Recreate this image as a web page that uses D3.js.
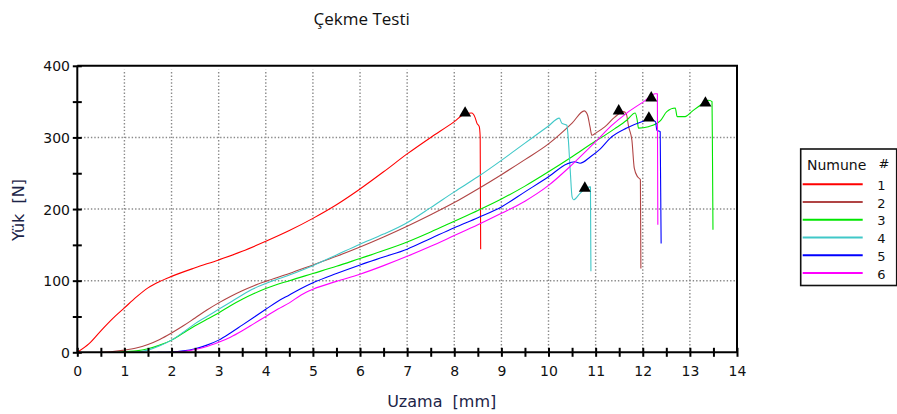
<!DOCTYPE html>
<html>
<head>
<meta charset="utf-8">
<script src="https://cdn.jsdelivr.net/npm/d3@7"></script>
<style>
  body { margin: 0; background: #fff; }
  svg { display: block; }
</style>
</head>
<body>
<div id="chart"></div>
<script>
// values: [Uzama mm, Yük N]
var numune1 = [[0,0],[0.25,12],[0.5,30],[0.75,47],[1,62],[1.25,77],[1.5,90],[1.75,99],[2,106],[2.5,118],[3,129],[3.5,141],[4,155],[4.5,170],[5,187],[5.5,206],[6,228],[6.5,252],[7,277],[7.5,300],[8,322],[8.2,332],[8.37,334],[8.44,328],[8.48,320],[8.53,315],[8.55,301],[8.56,144]];
var numune2 = [[0.5,0],[0.75,1],[1,3],[1.25,6],[1.5,11],[1.75,18],[2,27],[2.25,37],[2.5,48],[2.75,59],[3,69],[3.25,78],[3.5,86],[3.75,93],[4,99],[4.5,110],[5,122],[5.5,134],[6,147],[6.5,161],[7,176],[7.5,192],[8,209],[8.5,228],[9,248],[9.5,269],[10,291],[10.5,320],[10.76,337],[10.8,335],[10.83,331],[10.88,315],[10.92,303],[11,306],[11.2,315],[11.4,328],[11.59,336],[11.65,333],[11.7,315],[11.77,296],[11.82,257],[11.89,245],[11.95,241],[11.96,117]];
var numune3 = [[0.85,0],[1,1],[1.25,2],[1.5,5],[1.75,10],[2,17],[2.25,27],[2.5,37],[2.75,46],[3,55],[3.25,65],[3.5,74],[3.75,82],[4,89],[4.5,100],[5,110],[5.5,120],[6,131],[6.5,142],[7,154],[7.5,168],[8,183],[8.5,198],[9,214],[9.5,232],[10,252],[10.5,273],[11,295],[11.1,299],[11.4,312],[11.66,324],[11.84,334],[11.88,325],[11.91,313],[12.12,315],[12.37,323],[12.51,336],[12.69,341],[12.73,329],[12.9,329],[13.04,336],[13.22,345],[13.4,352],[13.47,350],[13.48,271],[13.49,171]];
var numune4 = [[1.2,0],[1.5,3],[1.75,9],[2,17],[2.25,28],[2.5,40],[2.75,50],[3,60],[3.25,70],[3.5,80],[3.75,89],[4,96],[4.5,108],[5,121],[5.5,136],[6,151],[6.5,165],[7,181],[7.5,202],[8,224],[8.5,245],[9,268],[9.5,292],[10,316],[10.23,327],[10.28,320],[10.39,317],[10.41,306],[10.46,255],[10.5,217],[10.53,213],[10.67,222],[10.82,230],[10.89,231],[10.9,113]];
var numune5 = [[1.7,0],[2,0.5],[2.25,2],[2.5,5],[2.75,10],[3,17],[3.25,27],[3.5,38],[3.75,49],[4,60],[4.25,71],[4.5,80],[4.75,89],[5,97],[5.5,110],[6,122],[6.5,133],[7,144],[7.5,159],[8,174],[8.5,188],[9,203],[9.5,224],[10,245],[10.39,263],[10.56,266],[10.67,264],[10.89,273],[11.1,284],[11.31,299],[11.66,313],[11.98,322],[12.16,325],[12.27,322],[12.3,310],[12.37,308],[12.39,152]];
var numune6 = [[2.05,0],[2.5,4],[2.75,8],[3,14],[3.25,21],[3.5,30],[3.75,40],[4,50],[4.25,60],[4.5,69],[4.75,80],[5,88],[5.5,99],[6,109],[6.5,121],[7,134],[7.5,148],[8,163],[8.5,178],[9,194],[9.5,211],[10,233],[10.5,262],[11,294],[11.33,316],[11.66,334],[12.02,350],[12.27,361],[12.31,361],[12.32,178]];

// break markers (triangles)
var markX = [8.23, 11.49, 13.33, 10.77, 12.13, 12.18];
var markY = [334, 337, 348, 229, 327, 355];

var names = ["1", "2", "3", "4", "5", "6"];
var colors = ["#ff0000", "#b04444", "#00e600", "#40c8c8", "#0000ff", "#ff00ff"];
var series = [numune1, numune2, numune3, numune4, numune5, numune6];

var xTicks = d3.range(0, 14.01, 0.5);
var yTicks = d3.range(0, 400.1, 50);
var xGrid = d3.range(1, 14, 1);
var yGrid = [100, 200, 300];

var W = 897, H = 414;
var svg = d3.select("#chart").append("svg").attr("width", W).attr("height", H);

var x = d3.scaleLinear().domain([0, 14]).range([77.3, 737]);
var y = d3.scaleLinear().domain([0, 400]).range([352.3, 65.8]);

// grid
var grid = svg.append("g").attr("stroke", "#8a8a8a").attr("stroke-width", 1.4).attr("stroke-dasharray", "1.4 2");
grid.selectAll(".gx").data(xGrid).enter().append("line")
  .attr("x1", function(d){ return x(d); }).attr("x2", function(d){ return x(d); })
  .attr("y1", y(0)).attr("y2", y(400) + 4);
grid.selectAll(".gy").data(yGrid).enter().append("line")
  .attr("x1", x(0)).attr("x2", x(14))
  .attr("y1", function(d){ return y(d); }).attr("y2", function(d){ return y(d); });

// curves
var line = d3.line().curve(d3.curveMonotoneX)
  .x(function(d){ return x(d[0]); }).y(function(d){ return y(d[1]); });
svg.append("g").selectAll("path").data(series).enter().append("path")
  .attr("d", line)
  .attr("fill", "none")
  .attr("stroke", function(d, i){ return colors[i]; })
  .attr("stroke-width", 1.1)
  .attr("stroke-linejoin", "round");

// markers
var tri = d3.symbol().type(d3.symbolTriangle).size(62);
svg.append("g").selectAll("path").data(markX).enter().append("path")
  .attr("d", tri)
  .attr("transform", function(d, i){ return "translate(" + x(d) + "," + y(markY[i]) + ")"; })
  .attr("fill", "#000");

// frame (top and right)
svg.append("path")
  .attr("d", "M" + x(0) + "," + y(400) + "H" + x(14) + "V" + y(0))
  .attr("fill", "none").attr("stroke", "#000").attr("stroke-width", 2);

// axes
var xAxis = svg.append("g").attr("transform", "translate(0," + y(0) + ")")
  .call(d3.axisBottom(x).tickValues(xTicks).tickSize(4.5)
    .tickFormat(function(d){ return d % 1 === 0 ? d : ""; }));
var yAxis = svg.append("g").attr("transform", "translate(" + x(0) + ",0)")
  .call(d3.axisLeft(y).tickValues(yTicks).tickSize(4.5)
    .tickFormat(function(d){ return d % 100 === 0 ? d : ""; }));

xAxis.select(".domain").attr("stroke", "#000").attr("stroke-width", 2).attr("d", "M" + x(0) + ",0H" + x(14));
yAxis.select(".domain").attr("stroke", "#000").attr("stroke-width", 2).attr("d", "M0," + y(0) + "V" + y(400));
xAxis.selectAll(".tick line").attr("y1", -4.5).attr("y2", 4.5).attr("stroke", "#000").attr("stroke-width", 2);
yAxis.selectAll(".tick line").attr("x1", -4.5).attr("x2", 4.5).attr("stroke", "#000").attr("stroke-width", 2);
xAxis.selectAll(".tick text").attr("y", 23.7).attr("dy", null)
  .attr("font-family", "DejaVu Sans").attr("font-size", 14).attr("fill", "#111");
yAxis.selectAll(".tick text").attr("x", -7.3).attr("dy", "0.36em")
  .attr("font-family", "DejaVu Sans").attr("font-size", 14).attr("fill", "#111");

// titles
svg.append("text").attr("x", 361.7).attr("y", 25).attr("text-anchor", "middle")
  .attr("font-family", "Open Sans").attr("font-size", 17).attr("fill", "#111")
  .text("Çekme Testi");
svg.append("text").attr("x", 441.7).attr("y", 407).attr("text-anchor", "middle")
  .attr("font-family", "DejaVu Sans").attr("font-size", 16).attr("fill", "#1c2447")
  .attr("xml:space", "preserve").text("Uzama  [mm]");
svg.append("text").attr("transform", "translate(24,210) rotate(-90)").attr("text-anchor", "middle")
  .attr("font-family", "DejaVu Sans").attr("font-size", 16).attr("fill", "#1c2447")
  .attr("xml:space", "preserve").text("Yük  [N]");

// legend
var leg = svg.append("g");
leg.append("rect").attr("x", 800.7).attr("y", 149).attr("width", 96).attr("height", 136.5)
  .attr("fill", "#fff").attr("stroke", "#111").attr("stroke-width", 1.6);
leg.append("text").attr("x", 807).attr("y", 170).attr("font-family", "DejaVu Sans").attr("font-size", 14)
  .attr("fill", "#111").text("Numune");
leg.append("text").attr("x", 884).attr("y", 168).attr("text-anchor", "middle").attr("font-family", "DejaVu Sans")
  .attr("font-size", 13).attr("fill", "#111").text("#");
var rows = leg.selectAll(".row").data(names).enter().append("g")
  .attr("transform", function(d, i){ return "translate(0," + (184.3 + i * 17.75) + ")"; });
rows.append("line").attr("x1", 802.7).attr("x2", 862.7)
  .attr("stroke", function(d, i){ return colors[i]; }).attr("stroke-width", 2);
rows.append("text").attr("x", 881.5).attr("y", 5.5).attr("text-anchor", "middle")
  .attr("font-family", "DejaVu Sans").attr("font-size", 13).attr("fill", "#111")
  .text(function(d){ return d; });
</script>
</body>
</html>
